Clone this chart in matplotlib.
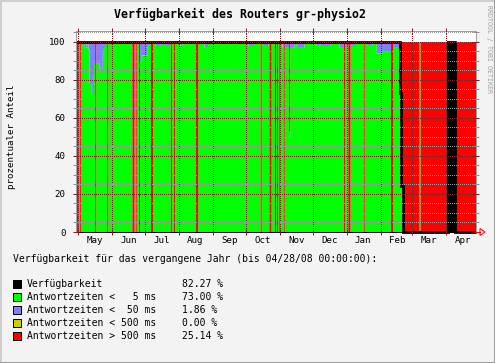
import numpy as np
import pandas as pd
import matplotlib
matplotlib.use("Agg")
import matplotlib.pyplot as plt
import matplotlib.dates as mdates
from matplotlib.patches import Rectangle, Polygon
from matplotlib.lines import Line2D

# ---- data (daily values, percent) ----
start_day = "2007-04-29"
end_day = "2008-04-28"

# days with full outage (red bar over the whole height)
red_days = ["2007-04-29", "2007-04-30", "2007-05-02", "2007-05-16", "2007-05-27",
            "2007-06-19", "2007-06-20", "2007-06-22", "2007-06-25", "2007-07-06",
            "2007-07-07", "2007-07-24", "2007-07-27", "2007-08-16", "2007-08-17",
            "2007-10-14", "2007-10-22", "2007-10-23", "2007-10-27", "2007-10-29",
            "2007-10-31", "2007-11-04", "2007-12-29", "2008-01-02", "2008-01-03",
            "2008-01-16", "2008-02-10", "2008-02-11"]

# responses between 5 and 50 ms (blue)
blue_start = ["2007-05-06", "2007-05-10", "2007-05-11", "2007-05-13", "2007-05-14",
              "2007-05-15", "2007-05-17", "2007-05-20", "2007-05-23", "2007-05-24",
              "2007-06-21", "2007-06-26", "2007-06-27", "2007-07-03", "2007-07-10",
              "2007-07-18", "2007-08-02", "2007-08-24", "2007-09-03", "2007-09-20",
              "2007-10-03", "2007-10-17", "2007-11-03", "2007-11-17", "2007-12-04",
              "2007-12-08", "2007-12-25", "2008-01-04", "2008-01-20", "2008-01-28",
              "2008-02-01", "2008-02-11"]
blue_end = ["2007-05-07", "2007-05-10", "2007-05-12", "2007-05-13", "2007-05-14",
            "2007-05-15", "2007-05-19", "2007-05-22", "2007-05-23", "2007-05-24",
            "2007-06-21", "2007-06-26", "2007-07-02", "2007-07-03", "2007-07-14",
            "2007-07-23", "2007-08-03", "2007-08-26", "2007-09-05", "2007-09-20",
            "2007-10-06", "2007-10-20", "2007-11-13", "2007-11-22", "2007-12-06",
            "2007-12-16", "2008-01-01", "2008-01-08", "2008-01-23", "2008-01-31",
            "2008-02-10", "2008-02-18"]
blue_pct = [3, 4, 22, 27, 18, 11, 11, 14, 6, 3,
            36, 10, 7, 2, 2, 2, 2, 3, 1, 1,
            2, 2, 3, 3, 2, 2, 3, 2, 2, 6,
            5, 3]

# partial outage day: (day, green, blue, red)
partial_day = "2007-11-09"
partial_vals = (50, 3, 47)

# router going down in February
trans_days = ["2008-02-19", "2008-02-20"]
trans_green = [72, 24]
trans_avail = [73, 24]
outage_start = "2008-02-21"
green_gap_days = ["2008-03-07"]
avail_block = ("2008-04-02", "2008-04-08")

legend_names = ["Verfügbarkeit", "Antwortzeiten <   5 ms", "Antwortzeiten <  50 ms",
                "Antwortzeiten < 500 ms", "Antwortzeiten > 500 ms"]
legend_vals = ["82.27 %", "73.00 %", "1.86 %", "0.00 %", "25.14 %"]
legend_colors = ["#000000", "#00FF00", "#7F7FFF", "#CCCC00", "#FF0000"]

# ---- build the daily series ----
days = pd.date_range(start_day, end_day, freq="D")
n = len(days) - 1
def idx(d):
    return (pd.Timestamp(d) - days[0]).days

blue = np.zeros(n)
for s, e, v in zip(blue_start, blue_end, blue_pct):
    blue[idx(s):idx(e) + 1] = v
green = 100.0 - blue
yellow = np.zeros(n)
red = np.zeros(n)
avail = np.full(n, 100.0)
block = np.zeros(n)

for d in red_days:
    i = idx(d)
    red[i], green[i], blue[i] = 100, 0, 0
i = idx(partial_day)
green[i], blue[i], red[i] = partial_vals
for d, g, a in zip(trans_days, trans_green, trans_avail):
    i = idx(d)
    green[i], blue[i], red[i], avail[i] = g, 0, 100 - g, a
i0 = idx(outage_start)
red[i0:], green[i0:], blue[i0:], avail[i0:] = 100, 0, 0, 0
for d in green_gap_days:
    i = idx(d)
    red[i], green[i] = 0, 100
b0, b1 = idx(avail_block[0]), idx(avail_block[1])
avail[b0:b1 + 1] = 100
block[b0:b1 + 1] = 100

def st(a):
    return np.append(a, a[-1])

x = mdates.date2num(days)

# ---- figure ----
W, H = 495, 363
mono = "DejaVu Sans Mono"
fig = plt.figure(figsize=(W / 100, H / 100), dpi=100, facecolor="#F3F3F3")
ax = fig.add_axes([76 / W, 1 - 232 / H, 400 / W, 201 / H], facecolor="white")

top1 = green
top2 = top1 + blue
top3 = top2 + yellow
top4 = top3 + red
ax.fill_between(x, 0, st(top1), step="post", color="#00FF00", lw=0, zorder=1)
ax.fill_between(x, st(top1), st(top2), step="post", color="#7F7FFF", lw=0, zorder=1)
ax.fill_between(x, st(top2), st(top3), step="post", color="#CCCC00", lw=0, zorder=1)
ax.fill_between(x, st(top3), st(top4), step="post", color="#FF0000", lw=0, zorder=1)
ax.fill_between(x, 0, st(block), step="post", color="black", lw=0, zorder=1.5)
ax.step(x, st(avail), where="post", color="black", lw=2.0, zorder=2,
        clip_on=False, solid_capstyle="butt", solid_joinstyle="miter")

ax.set_xlim(x[0], x[-1])
ax.set_ylim(0, 105.6)

ax.xaxis.set_major_locator(mdates.MonthLocator())
ax.xaxis.set_major_formatter(plt.NullFormatter())
ax.xaxis.set_minor_locator(mdates.MonthLocator(bymonthday=16))
ax.xaxis.set_minor_formatter(mdates.DateFormatter("%b"))
ax.yaxis.set_major_locator(plt.MultipleLocator(20))
ax.yaxis.set_minor_locator(plt.MultipleLocator(5))

ax.tick_params(axis="x", which="major", direction="inout", length=5, width=0.72,
               color="#821E1E", top=True)
ax.tick_params(axis="x", which="minor", length=0, pad=3, labelsize=6.6,
               labelfontfamily=mono)
ax.tick_params(axis="y", which="major", direction="inout", length=5, width=0.72,
               color="#821E1E", right=True, pad=5, labelsize=6.6,
               labelfontfamily=mono)
ax.tick_params(axis="y", which="minor", direction="inout", length=5, width=0.72,
               color="#8F8F8F", right=True)

ax.set_axisbelow(False)
dots = (0, (1, 2))
ax.grid(axis="x", which="major", color="#821E1E", ls=dots, lw=0.72, antialiased=False)
ax.grid(axis="y", which="major", color="#821E1E", ls=dots, lw=0.72, antialiased=False)
ax.grid(axis="y", which="minor", color="#9A9A9A", ls=dots, lw=0.72, antialiased=False)

for side in ["left", "top", "right"]:
    ax.spines[side].set_color("#A0A0A0")
    ax.spines[side].set_linewidth(0.72)
ax.spines["bottom"].set_color("black")
ax.spines["bottom"].set_linewidth(0.72)

def fx(px):
    return px / W

def fy(py):
    return 1 - py / H

# red arrow at the end of the time axis
fig.add_artist(Line2D([fx(476), fx(480)], [fy(232), fy(232)], color="#FF0000", lw=0.72))
fig.add_artist(Polygon([(fx(480), fy(228.5)), (fx(480), fy(235.5)), (fx(485), fy(232))],
                       closed=True, fill=False, edgecolor="#FF0000", lw=0.72))

# texts
fig.text(fx(240), fy(14.5), "Verfügbarkeit des Routers gr-physio2", ha="center",
         va="center", fontsize=8.4, fontweight="bold", family=mono)
fig.text(fx(12), fy(137), "prozentualer Anteil", rotation=90, ha="center",
         va="center", fontsize=6.6, family=mono)
fig.text(fx(488.5), fy(5), "RRDTOOL / TOBI OETIKER", rotation=270, ha="center",
         va="top", fontsize=4.8, family=mono, color="#A0A0A0")

fig.text(fx(13), fy(259), "Verfügbarkeit für das vergangene Jahr (bis 04/28/08 00:00:00):",
         ha="left", va="center", fontsize=7, family=mono)
rows_y = [284.3, 297.3, 310.3, 323.3, 336.3]
for yy, name, val, col in zip(rows_y, legend_names, legend_vals, legend_colors):
    fig.add_artist(Rectangle((fx(12.5), fy(yy + 4)), 8 / W, 8 / H, transform=fig.transFigure,
                             facecolor=col, edgecolor="black", lw=0.72))
    fig.text(fx(26.7), fy(yy), name, ha="left", va="center", fontsize=7, family=mono)
    fig.text(fx(181.7), fy(yy), val, ha="left", va="center", fontsize=7, family=mono)

# 3d border of the image
fig.add_artist(Line2D([0, 0], [0, 1], color="#CFCFCF", lw=2.2))
fig.add_artist(Line2D([0, 1], [1, 1], color="#CFCFCF", lw=2.2))
fig.add_artist(Line2D([0, 1], [0, 0], color="#9E9E9E", lw=2.2))
fig.add_artist(Line2D([1, 1], [0, 1], color="#9E9E9E", lw=2.2))

fig.savefig("out.png", dpi=100, facecolor=fig.get_facecolor())
